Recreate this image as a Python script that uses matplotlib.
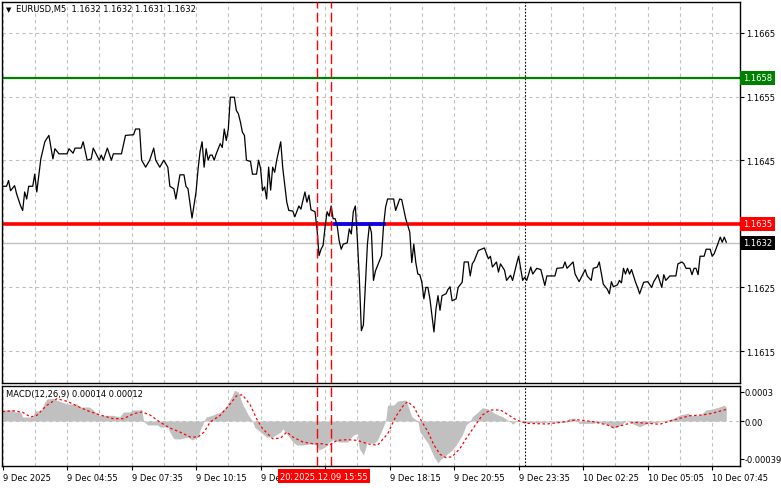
import matplotlib
matplotlib.use('Agg')
import matplotlib.pyplot as plt

plt.rcParams['font.family'] = ['DejaVu Sans']
plt.rcParams['font.size'] = 6

# ---- data (x = bar number, 5 minute bars) ----
price_bar = [0, 2, 3, 4, 6, 7, 9, 10, 11, 12, 13, 15, 16, 17, 18, 19, 21, 23, 25, 26,
             28, 32, 33, 35, 36, 39, 40, 42, 44, 45, 48, 49, 50, 52, 54, 55, 59, 61, 65, 66,
             68, 69, 71, 73, 75, 76, 78, 80, 82, 83, 85, 86, 88, 90, 91, 92, 94, 95, 96, 97,
             98, 99, 100, 101, 102, 103, 104, 105, 106, 108, 109, 110, 111, 112, 113, 115, 116, 117, 118, 119,
             120, 121, 123, 124, 126, 127, 128, 129, 130, 131, 132, 133, 134, 135, 136, 138, 139, 141, 142, 144,
             145, 147, 148, 150, 151, 152, 153, 155, 156, 157, 158, 159, 160, 161, 162, 163, 164, 165, 166, 167,
             168, 169, 171, 172, 173, 174, 175, 176, 177, 178, 179, 180, 181, 182, 183, 184, 185, 187, 188, 189,
             190, 191, 194, 195, 197, 198, 200, 202, 203, 204, 205, 206, 207, 208, 209, 210, 211, 212, 213, 214,
             215, 216, 217, 218, 220, 221, 222, 223, 225, 226, 228, 229, 231, 232, 233, 234, 236, 239, 241, 242,
             243, 245, 246, 247, 249, 250, 252, 253, 255, 256, 258, 259, 260, 261, 262, 263, 265, 267, 269, 270,
             274, 275, 278, 279, 280, 283, 284, 286, 289, 290, 292, 293, 295, 296, 298, 300, 301, 302, 303, 305,
             306, 307, 308, 309, 310, 311, 312, 314, 315, 316, 318, 320, 322, 323, 324, 325, 327, 328, 329, 331,
             334, 335, 337, 338, 339, 341, 342, 343, 344, 345, 346, 348, 349, 351, 352, 353, 355, 356, 357, 358,
             359]
price_close = [1.16409, 1.16409, 1.16418, 1.16402, 1.16410, 1.16397, 1.16378, 1.16371, 1.16400, 1.16389,
               1.16409, 1.16409, 1.16428, 1.16400, 1.16426, 1.16452, 1.16479, 1.16489, 1.16452, 1.16468,
               1.16460, 1.16460, 1.16468, 1.16461, 1.16469, 1.16469, 1.16479, 1.16450, 1.16452, 1.16469,
               1.16450, 1.16458, 1.16450, 1.16469, 1.16450, 1.16460, 1.16460, 1.16489, 1.16490, 1.16499,
               1.16499, 1.16450, 1.16439, 1.16450, 1.16469, 1.16450, 1.16439, 1.16450, 1.16439, 1.16409,
               1.16405, 1.16389, 1.16427, 1.16427, 1.16409, 1.16405, 1.16359, 1.16380, 1.16400, 1.16436,
               1.16464, 1.16479, 1.16439, 1.16468, 1.16450, 1.16458, 1.16458, 1.16450, 1.16460, 1.16476,
               1.16470, 1.16499, 1.16481, 1.16499, 1.16549, 1.16549, 1.16528, 1.16523, 1.16510, 1.16494,
               1.16489, 1.16450, 1.16448, 1.16428, 1.16428, 1.16450, 1.16437, 1.16402, 1.16408, 1.16389,
               1.16439, 1.16403, 1.16439, 1.16431, 1.16450, 1.16479, 1.16438, 1.16384, 1.16371, 1.16370,
               1.16361, 1.16378, 1.16373, 1.16400, 1.16384, 1.16395, 1.16372, 1.16369, 1.16342, 1.16300,
               1.16310, 1.16316, 1.16345, 1.16369, 1.16362, 1.16378, 1.16358, 1.16358, 1.16347, 1.16323,
               1.16310, 1.16318, 1.16320, 1.16342, 1.16334, 1.16369, 1.16378, 1.16326, 1.16263, 1.16182,
               1.16191, 1.16253, 1.16318, 1.16349, 1.16336, 1.16261, 1.16276, 1.16292, 1.16300, 1.16347,
               1.16376, 1.16389, 1.16389, 1.16371, 1.16389, 1.16388, 1.16358, 1.16337, 1.16289, 1.16318,
               1.16289, 1.16271, 1.16270, 1.16258, 1.16232, 1.16250, 1.16250, 1.16232, 1.16206, 1.16180,
               1.16216, 1.16237, 1.16214, 1.16237, 1.16240, 1.16247, 1.16251, 1.16229, 1.16232, 1.16250,
               1.16258, 1.16290, 1.16290, 1.16268, 1.16287, 1.16292, 1.16308, 1.16312, 1.16295, 1.16299,
               1.16282, 1.16290, 1.16274, 1.16287, 1.16277, 1.16261, 1.16269, 1.16261, 1.16287, 1.16299,
               1.16261, 1.16266, 1.16261, 1.16271, 1.16282, 1.16271, 1.16280, 1.16278, 1.16253, 1.16268,
               1.16268, 1.16280, 1.16281, 1.16290, 1.16280, 1.16290, 1.16271, 1.16259, 1.16278, 1.16268,
               1.16261, 1.16280, 1.16282, 1.16290, 1.16255, 1.16247, 1.16240, 1.16259, 1.16251, 1.16254,
               1.16261, 1.16257, 1.16280, 1.16271, 1.16280, 1.16271, 1.16278, 1.16258, 1.16250, 1.16240,
               1.16258, 1.16259, 1.16250, 1.16259, 1.16264, 1.16270, 1.16250, 1.16270, 1.16261, 1.16268,
               1.16268, 1.16287, 1.16290, 1.16287, 1.16280, 1.16280, 1.16270, 1.16280, 1.16280, 1.16270,
               1.16299, 1.16299, 1.16310, 1.16310, 1.16299, 1.16303, 1.16320, 1.16329, 1.16321, 1.16329,
               1.16321]

hist_bar = [0, 5, 6, 9, 10, 15, 16, 19, 21, 22, 25, 28, 32, 37, 38, 43, 45, 48, 55, 58,
            60, 63, 65, 68, 69, 70, 72, 77, 78, 82, 83, 85, 88, 92, 94, 97, 98, 100, 101, 104,
            108, 111, 114, 115, 117, 119, 122, 124, 125, 128, 131, 134, 138, 139, 141, 144, 146, 149, 153, 156,
            157, 160, 162, 164, 167, 171, 174, 176, 177, 179, 181, 184, 186, 188, 190, 191, 194, 196, 200, 201,
            203, 206, 207, 211, 214, 216, 217, 220, 223, 225, 228, 230, 232, 233, 236, 238, 241, 244, 248, 252,
            253, 255, 258, 265, 272, 280, 281, 284, 286, 293, 295, 300, 303, 306, 310, 313, 316, 320, 325, 330,
            333, 336, 340, 342, 346, 349, 352, 356, 358, 359]
hist_val = [0.000114, 0.000114, 0.000093, 0.000093, 0.000041, 0.000041, 0.000103, 0.000103, 0.000196, 0.000227,
            0.000234, 0.000207, 0.000176, 0.000176, 0.000145, 0.000145, 0.000114, 0.000059, 0.000059, 0.000041,
            0.000093, 0.000093, 0.000114, 0.000114, 0.000124, 0.0, -0.000041, -0.000041, -0.000062, -0.000062,
            -0.000114, -0.000183, -0.000186, -0.000165, -0.000196, -0.000165, -0.000093, 0.0, 0.000041, 0.000059,
            0.000093, 0.000145, 0.000266, 0.000317, 0.000300, 0.000176, 0.000059, 0.0, -0.000062, -0.000114,
            -0.000165, -0.000165, -0.000114, -0.000080, -0.000131, -0.000217, -0.000248, -0.000248, -0.000235, -0.000248,
            -0.000300, -0.000269, -0.000217, -0.000196, -0.000217, -0.000217, -0.000145, -0.000131, -0.000286, -0.000352,
            -0.000217, -0.000235, -0.000196, -0.000103, 0.0, 0.000165, 0.000165, 0.000207, 0.000217, 0.000165,
            0.000044, 0.0, -0.000111, -0.000227, -0.000369, -0.000434, -0.000403, -0.000352, -0.000300, -0.000248,
            -0.000145, -0.000041, 0.0, 0.000044, 0.000096, 0.000138, 0.000124, 0.000080, 0.000044, -0.000007,
            -0.000034, 0.0, -0.000013, -0.000018, -0.000010, -0.000013, 0.000028, 0.000028, -0.000024, -0.000024,
            -0.000010, -0.000034, -0.000075, -0.000049, 0.000010, -0.000034, -0.000059, -0.000024, -0.000013, 0.000010,
            0.000028, 0.000062, 0.000080, 0.000055, 0.000062, 0.000114, 0.000124, 0.000148, 0.000165, 0.000140]

signal_bar = [0, 5, 10, 14, 17, 22, 27, 32, 38, 43, 48, 55, 60, 65, 69, 73, 78, 83, 88, 93,
              97, 100, 103, 108, 113, 116, 119, 123, 126, 129, 134, 138, 141, 144, 149, 154, 159, 162, 166, 171,
              176, 181, 186, 191, 195, 199, 201, 204, 207, 211, 214, 217, 220, 223, 227, 230, 234, 238, 242, 247,
              251, 255, 260, 270, 277, 285, 293, 300, 303, 308, 313, 320, 326, 331, 336, 341, 347, 352, 356, 359]
signal_val = [0.000096, 0.000107, 0.000090, 0.000041, 0.000059, 0.000162, 0.000231, 0.000204, 0.000145, 0.000100,
              0.000065, 0.000024, 0.000024, 0.000075, 0.000093, 0.000065, -0.000010, -0.000072, -0.000114, -0.000165,
              -0.000165, -0.000114, -0.000010, 0.000059, 0.000179, 0.000259, 0.000272, 0.000162, 0.000024, -0.000080,
              -0.000183, -0.000176, -0.000114, -0.000165, -0.000217, -0.000235, -0.000235, -0.000251, -0.000200, -0.000193,
              -0.000200, -0.000235, -0.000251, -0.000134, 0.000044, 0.000165, 0.000200, 0.000148, 0.000028, -0.000111,
              -0.000248, -0.000344, -0.000379, -0.000369, -0.000282, -0.000179, -0.000059, 0.000062, 0.000114, 0.000114,
              0.000062, 0.000010, -0.000024, -0.000031, -0.000013, 0.000013, -0.000007, -0.000041, -0.000069, -0.000041,
              -0.000013, -0.000024, -0.000034, 0.0, 0.000028, 0.000055, 0.000062, 0.000080, 0.000103, 0.000120]

level_green = 1.1658
level_red = 1.1635
price_now = 1.1632
blue_from, blue_to = 165, 189
marker_bars = [156, 163]
marker_times = ['2025.12.09 15:20', '2025.12.09 15:55']
day_split_bar = 259

tick_bars = [0, 32, 64, 96, 128, 160, 192, 224, 256, 288, 320, 352]
# the 15:35 label sits fully under the red time box in the original
tick_names = ['9 Dec 2025', '9 Dec 04:55', '9 Dec 07:35', '9 Dec 10:15', '9 Dec 12:55',
              '', '9 Dec 18:15', '9 Dec 20:55', '9 Dec 23:35', '10 Dec 02:25',
              '10 Dec 05:05', '10 Dec 07:45']
price_ticks = [1.1615, 1.1625, 1.1645, 1.1655, 1.1665]
macd_ticks = [-0.00039, 0.0, 0.0003]
macd_names = ['-0.00039', '0.00', '0.0003']

# ---- layout in pixels ----
W, H = 781, 489


def box(x0, y0, x1, y1):
    return [x0 / W, 1 - y1 / H, (x1 - x0) / W, (y1 - y0) / H]


fig = plt.figure(figsize=(7.81, 4.89), dpi=100, facecolor='w')
ax1 = fig.add_axes(box(2, 3, 740, 384))
ax2 = fig.add_axes(box(2, 387, 740, 467), sharex=ax1)

grid_kw = dict(color='#c0c0c0', linestyle=(0, (3, 3)), linewidth=0.8)
for ax in (ax1, ax2):
    for s in ax.spines.values():
        s.set_color('black')
        s.set_linewidth(1)
    ax.yaxis.tick_right()
    ax.tick_params(axis='y', length=3, width=0.8, pad=1.5, labelsize=6)
    ax.set_xticks(tick_bars)
    ax.set_xticks(range(16, 366, 32), minor=True)
    ax.grid(True, axis='x', which='both', **grid_kw)
    ax.tick_params(axis='x', which='minor', length=0)
    ax.axvline(day_split_bar, color='black', linestyle=(0, (1.5, 1.5)), linewidth=0.8)
    for b in marker_bars:
        ax.axvline(b, color='red', linestyle=(0, (7, 3)), linewidth=1, zorder=5)

ax1.set_xlim(-0.25, 365.8)

# price panel
ax1.set_ylim(1.160997, 1.166987)
ax1.set_yticks(price_ticks)
ax1.set_yticklabels(['%.4f' % p for p in price_ticks])
ax1.grid(True, axis='y', **grid_kw)
ax1.tick_params(axis='x', which='both', length=0, labelbottom=False)
ax1.axhline(price_now, color='#c0c0c0', linewidth=1)
ax1.axhline(level_green, color='#008000', linewidth=1.6)
ax1.axhline(level_red, color='red', linewidth=2.6)
ax1.plot([blue_from, blue_to], [level_red, level_red], color='blue', linewidth=2.6)
ax1.plot(price_bar, price_close, color='black', linewidth=0.9)

yt = ax1.get_yaxis_transform()
for val, col in [(level_green, '#008000'), (level_red, 'red'), (price_now, 'black')]:
    ax1.text(1.004, val, '%.4f' % val, transform=yt, ha='left', va='center', color='white',
             fontsize=6, clip_on=False, zorder=10,
             bbox=dict(boxstyle='square,pad=0.3', fc=col, ec='none'))

ax1.text(0.005, 0.982, '\u25bc', transform=ax1.transAxes, fontsize=5, va='center', ha='left')
ax1.text(0.019, 0.982, 'EURUSD,M5  1.1632 1.1632 1.1631 1.1632', transform=ax1.transAxes,
         fontsize=6, va='center', ha='left')

# MACD panel
ax2.set_ylim(-0.000465, 0.000362)
ax2.set_yticks(macd_ticks)
ax2.set_yticklabels(macd_names)
ax2.axhline(0, color='#c0c0c0', linewidth=0.8, linestyle=(0, (3, 3)))
ax2.fill_between(hist_bar, 0, hist_val, color='#c0c0c0', linewidth=0)
ax2.plot(signal_bar, signal_val, color='red', linestyle=(0, (2, 2)), linewidth=0.9)
ax2.text(0.005, 0.9, 'MACD(12,26,9) 0.00014 0.00012', transform=ax2.transAxes,
         fontsize=6, va='center', ha='left')
ax2.set_xticklabels(tick_names, ha='left')
ax2.tick_params(axis='x', which='major', length=3, width=0.8, pad=2, labelsize=6)
ax2.tick_params(axis='y', pad=0.5)

xt = ax2.get_xaxis_transform()
for b, t in zip(marker_bars, marker_times):
    ax2.text(b, -0.13, t, transform=xt, ha='center', va='center', color='white', fontsize=6,
             clip_on=False, zorder=10,
             bbox=dict(boxstyle='square,pad=0.3', fc='red', ec='none'))

fig.savefig('out.png', dpi=100)
